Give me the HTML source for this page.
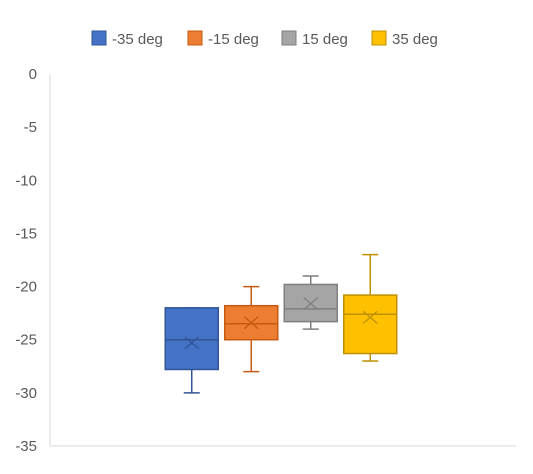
<!DOCTYPE html>
<html><head><meta charset="utf-8"><style>
body{margin:0;background:#fff;font-family:"Liberation Sans",sans-serif;}
svg{display:block}
</style></head><body>
<svg id="c" width="533" height="474"></svg>
<script>
const categories=["-35 deg","-15 deg","15 deg","35 deg"];
const q1Vals=[-27.8,-25.0,-23.3,-26.3];
const q3Vals=[-22.0,-21.8,-19.8,-20.8];
const medianVals=[-25.0,-23.5,-22.1,-22.6];
const meanVals=[-25.3,-23.4,-21.6,-22.9];
const minVals=[-30.0,-28.0,-24.0,-27.0];
const maxVals=[-22.0,-20.0,-19.0,-17.0];
const yTicks=[0,-5,-10,-15,-20,-25,-30,-35];
const fills=["#4472C4","#ED7D31","#A5A5A5","#FFC000"];
const strokes=["#2F5597","#C55A11","#7F7F7F","#BF9000"];
const NS="http://www.w3.org/2000/svg";
const svg=document.getElementById("c");
function mk(t,a,p){const e=document.createElementNS(NS,t);for(const k in a)e.setAttribute(k,a[k]);(p||svg).appendChild(e);return e;}
const y=v=>74+(-v)*(372/35);
const x=i=>281+(i-1.5)*59.5;
const bw=53;
let e=mk("line",{x1:50,y1:74,x2:50,y2:446,stroke:"#D9D9D9"});

e=mk("line",{x1:50,y1:446,x2:516,y2:446,stroke:"#D9D9D9"});

yTicks.forEach(t=>{const tx=mk("text",{x:37,y:y(t)+5,"text-anchor":"end","font-size":15,fill:"#595959"});tx.textContent=t;
});
categories.forEach((c,i)=>{
 const g=mk("g",{});
 
 
 const cx=x(i),s=strokes[i];
 mk("line",{x1:cx,y1:y(maxVals[i]),x2:cx,y2:y(q3Vals[i]),stroke:s,"stroke-width":1.5},g);
 mk("line",{x1:cx,y1:y(minVals[i]),x2:cx,y2:y(q1Vals[i]),stroke:s,"stroke-width":1.5},g);
 mk("line",{x1:cx-8,y1:y(maxVals[i]),x2:cx+8,y2:y(maxVals[i]),stroke:s,"stroke-width":1.5},g);
 mk("line",{x1:cx-8,y1:y(minVals[i]),x2:cx+8,y2:y(minVals[i]),stroke:s,"stroke-width":1.5},g);
 mk("rect",{x:cx-bw/2,y:y(q3Vals[i]),width:bw,height:y(q1Vals[i])-y(q3Vals[i]),fill:fills[i],stroke:s,"stroke-width":1.5},g);
 mk("line",{x1:cx-bw/2,y1:y(medianVals[i]),x2:cx+bw/2,y2:y(medianVals[i]),stroke:s,"stroke-width":1.5},g);
 const my=y(meanVals[i]);
 mk("path",{d:`M${cx-7} ${my-6}L${cx+7} ${my+6}M${cx+7} ${my-6}L${cx-7} ${my+6}`,stroke:s,"stroke-width":1.3},g);
});
const lx=[92,188,282,372];
categories.forEach((c,i)=>{
 const g=mk("g",{});
 
 
 mk("rect",{x:lx[i],y:31,width:14,height:14,fill:fills[i],stroke:strokes[i]},g);
 const t=mk("text",{x:lx[i]+20,y:44,"font-size":15,fill:"#595959"},g);t.textContent=c;
});
</script>
</body></html>
